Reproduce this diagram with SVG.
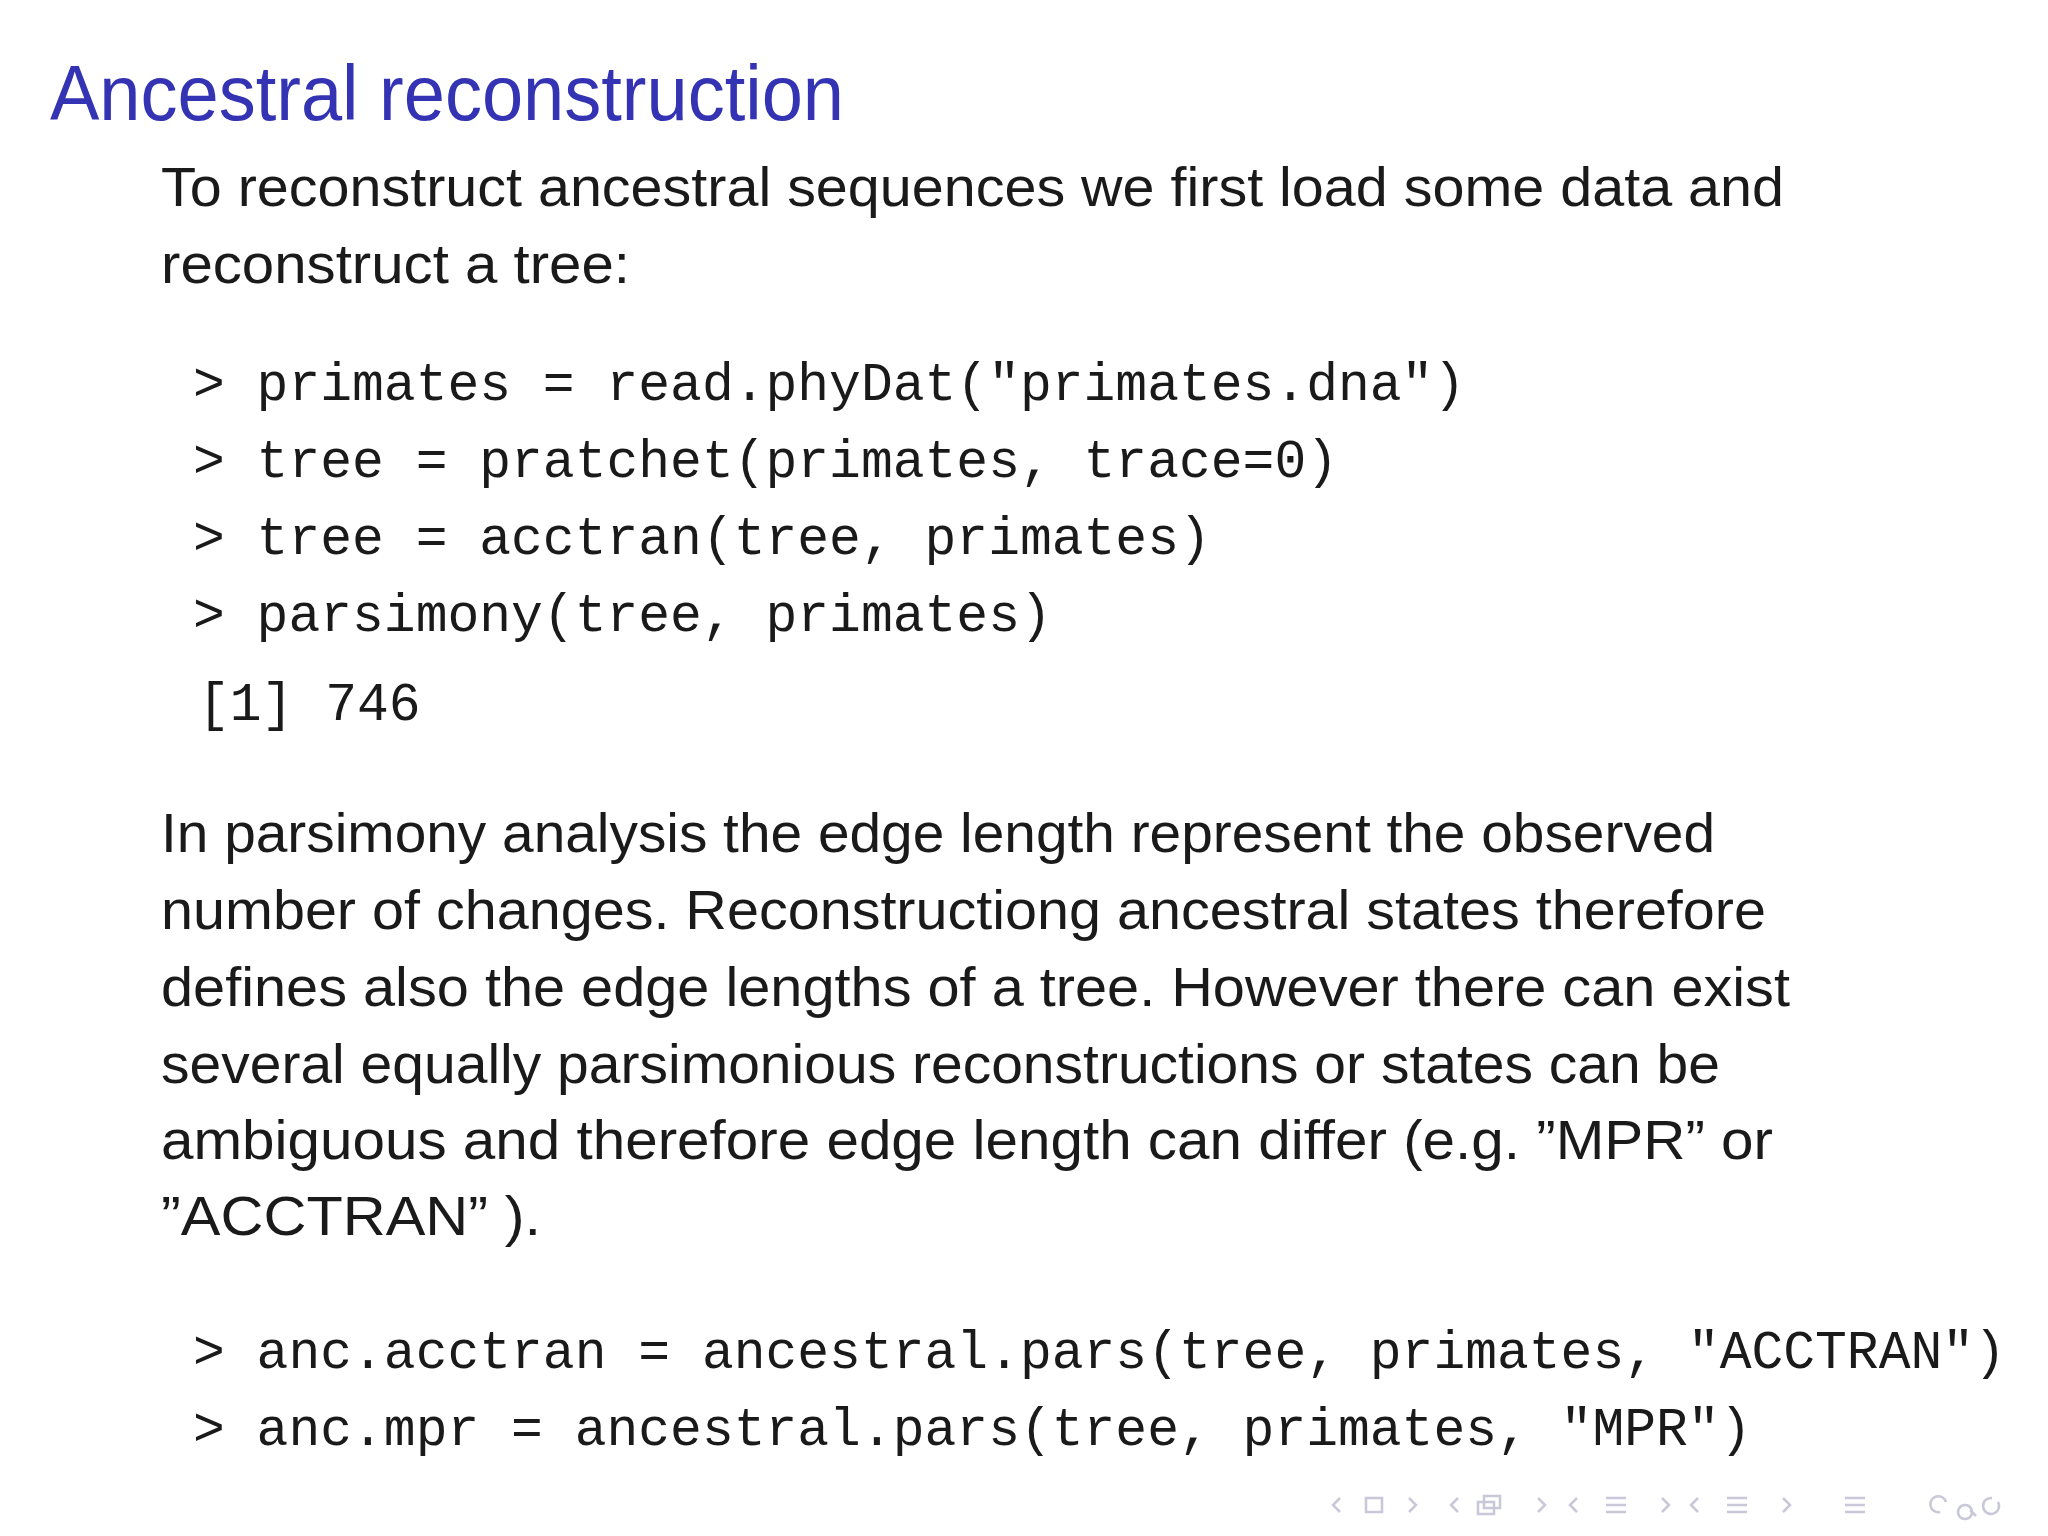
<svg xmlns="http://www.w3.org/2000/svg" width="2048" height="1536" viewBox="0 0 2048 1536">
<style>
.t{font-family:"Liberation Sans","DejaVu Sans",sans-serif;font-size:78px;fill:#3333b3}
.b{font-family:"Liberation Sans","DejaVu Sans",sans-serif;font-size:55px;fill:#1a1a1a}
.c{font-family:"Liberation Mono","DejaVu Sans Mono",monospace;font-size:53px;fill:#1a1a1a}
.n{fill:none;stroke:#c8c8d8;stroke-width:2.5}
</style>
<rect width="2048" height="1536" fill="#fff"/>
<g id="title"><text class="t" x="50" y="120" textLength="794" lengthAdjust="spacingAndGlyphs">Ancestral reconstruction</text></g>
<g id="para1">
<text class="b" x="161" y="206" textLength="1623" lengthAdjust="spacingAndGlyphs">To reconstruct ancestral sequences we first load some data and</text>
<text class="b" x="161" y="283" textLength="469" lengthAdjust="spacingAndGlyphs">reconstruct a tree:</text>
</g>
<g id="code1" xml:space="preserve">
<text class="c" x="193" y="400">&gt; primates = read.phyDat("primates.dna")</text>
<text class="c" x="193" y="477">&gt; tree = pratchet(primates, trace=0)</text>
<text class="c" x="193" y="554">&gt; tree = acctran(tree, primates)</text>
<text class="c" x="193" y="631">&gt; parsimony(tree, primates)</text>
<text class="c" x="198" y="720">[1] 746</text>
</g>
<g id="para2" xml:space="preserve">
<text class="b" x="161" y="852" textLength="1554" lengthAdjust="spacingAndGlyphs">In parsimony analysis the edge length represent the observed</text>
<text class="b" x="161" y="929" textLength="1605" lengthAdjust="spacingAndGlyphs">number of changes.  Reconstructiong ancestral states therefore</text>
<text class="b" x="161" y="1006" textLength="1629" lengthAdjust="spacingAndGlyphs">defines also the edge lengths of a tree.  However there can exist</text>
<text class="b" x="161" y="1083" textLength="1559" lengthAdjust="spacingAndGlyphs">several equally parsimonious reconstructions or states can be</text>
<text class="b" x="161" y="1159" textLength="1612" lengthAdjust="spacingAndGlyphs">ambiguous and therefore edge length can differ (e.g.  ”MPR” or</text>
<text class="b" x="161" y="1235" textLength="380" lengthAdjust="spacingAndGlyphs">”ACCTRAN” ).</text>
</g>
<g id="code2" xml:space="preserve">
<text class="c" x="193" y="1368">&gt; anc.acctran = ancestral.pars(tree, primates, "ACCTRAN")</text>
<text class="c" x="193" y="1445">&gt; anc.mpr = ancestral.pars(tree, primates, "MPR")</text>
</g>
<g id="nav">
<path class="n" d="M1340 1498 l-7 7 l7 7 M1409 1498 l7 7 l-7 7"/>
<rect class="n" x="1366" y="1498" width="16" height="14"/>
<path class="n" d="M1458 1498 l-7 7 l7 7 M1538 1498 l7 7 l-7 7"/>
<rect class="n" x="1478" y="1502" width="16" height="12"/><rect class="n" x="1484" y="1496" width="16" height="12"/>
<path class="n" d="M1577 1498 l-7 7 l7 7 M1662 1498 l7 7 l-7 7 M1606 1498 h20 M1606 1505 h20 M1606 1512 h20"/>
<path class="n" d="M1698 1498 l-7 7 l7 7 M1783 1498 l7 7 l-7 7 M1727 1498 h20 M1727 1505 h20 M1727 1512 h20"/>
<path class="n" d="M1845 1498 h20 M1845 1505 h20 M1845 1512 h20"/>
<path class="n" d="M1940 1512 a8 8 0 1 1 6 -10 M1965 1505 a7 7 0 1 0 0.1 0 M1970 1510 l6 6 M1998 1502 a8 8 0 1 1 -6 -4"/>
</g>
</svg>
